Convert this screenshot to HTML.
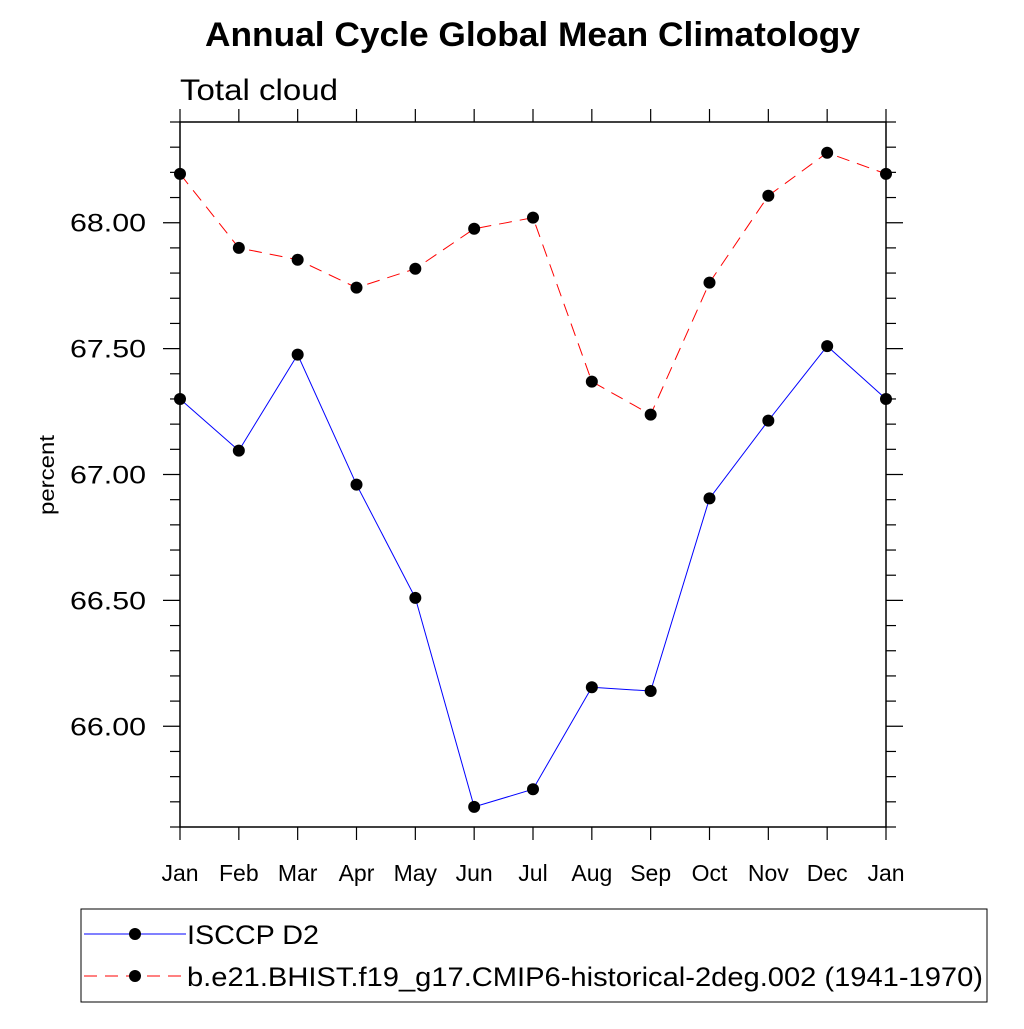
<!DOCTYPE html>
<html><head><meta charset="utf-8"><style>
body{margin:0;background:#fff}
svg text{font-family:"Liberation Sans",sans-serif}
</style></head><body>
<svg width="1024" height="1024" viewBox="0 0 1024 1024" xmlns="http://www.w3.org/2000/svg" id="svg">
<text x="205" y="46" font-size="34" font-weight="bold" textLength="655" lengthAdjust="spacingAndGlyphs">Annual Cycle Global Mean Climatology</text>
<text x="180" y="100" font-size="30" textLength="158" lengthAdjust="spacingAndGlyphs">Total cloud</text>
<text transform="translate(54,515) rotate(-90)" font-size="21" textLength="80" lengthAdjust="spacingAndGlyphs">percent</text>
<g id="axes"></g>
<g id="series"></g>
<rect x="81" y="909" width="906" height="93" fill="none" stroke="#000" stroke-width="1"/>
<line x1="84" y1="934" x2="186" y2="934" stroke="#0000ff" stroke-width="1"/>
<circle cx="135" cy="934" r="6"/>
<text x="187" y="944" font-size="27" textLength="132" lengthAdjust="spacingAndGlyphs">ISCCP D2</text>
<line x1="84" y1="976" x2="186" y2="976" stroke="#ff0000" stroke-width="1" stroke-dasharray="13,8"/>
<circle cx="135" cy="976" r="6"/>
<text x="187" y="986" font-size="27" textLength="796" lengthAdjust="spacingAndGlyphs">b.e21.BHIST.f19_g17.CMIP6-historical-2deg.002 (1941-1970)</text>
</svg>
<script>
const months=["Jan","Feb","Mar","Apr","May","Jun","Jul","Aug","Sep","Oct","Nov","Dec","Jan"];
const isccp=[67.30,67.095,67.476,66.96,66.51,65.68,65.75,66.155,66.14,66.905,67.214,67.51,67.30];
const model=[68.194,67.90,67.853,67.742,67.817,67.976,68.02,67.369,67.238,67.762,68.107,68.278,68.194];
const yTicks=[66.0,66.5,67.0,67.5,68.0];
const yTickLabels=["66.00","66.50","67.00","67.50","68.00"];
const NS="http://www.w3.org/2000/svg";
const L=180,R=886,T=122,B=827,yMin=65.6,yMax=68.4;
const xs=i=>L+(R-L)*i/(months.length-1);
const ys=v=>B-(v-yMin)/(yMax-yMin)*(B-T);
function mk(tag,at,parent){const e=document.createElementNS(NS,tag);for(const k in at)e.setAttribute(k,at[k]);parent.appendChild(e);return e;}
const ax=document.getElementById('axes');
const frame=mk('rect',{x:L,y:T,width:R-L,height:B-T,fill:'none',stroke:'#000','stroke-width':1.5},ax);


months.forEach((m,i)=>{
 const x=xs(i);
 const t1=mk('line',{x1:x,y1:B,x2:x,y2:B+13,stroke:'#000','stroke-width':1.2},ax);
 
 
 const t2=mk('line',{x1:x,y1:T,x2:x,y2:T-13,stroke:'#000','stroke-width':1.2},ax);
 
 
 const tx=mk('text',{x:x,y:881,'font-size':23,'text-anchor':'middle'},ax);
 tx.textContent=m;
 
 
});
for(let v=65.6;v<=68.401;v+=0.1){
 const y=ys(v);const major=yTicks.some(t=>Math.abs(t-v)<1e-6);const len=major?17:10;
 const a=mk('line',{x1:L-len,y1:y,x2:L,y2:y,stroke:'#000','stroke-width':1.2},ax);
 
 
 const b=mk('line',{x1:R,y1:y,x2:R+len,y2:y,stroke:'#000','stroke-width':1.2},ax);
 
 
}
yTicks.forEach((v,i)=>{
 const tx=mk('text',{x:70,y:ys(v)+9,'font-size':25,textLength:76,lengthAdjust:'spacingAndGlyphs'},ax);
 tx.textContent=yTickLabels[i];
 
 
});
const sg=document.getElementById('series');
function series(vals,color,dash,name){
 const p=mk('polyline',{points:vals.map((v,i)=>xs(i)+','+ys(v)).join(' '),fill:'none',stroke:color,'stroke-width':1,'stroke-dasharray':dash},sg);
 
 
 vals.forEach((v,i)=>{
  const c=mk('circle',{cx:xs(i),cy:ys(v),r:6,fill:'#000'},sg);
  
  
 });
}
series(isccp,'#0000ff','none','isccp');
series(model,'#ff0000','13,8','model');
</script>
</body></html>
